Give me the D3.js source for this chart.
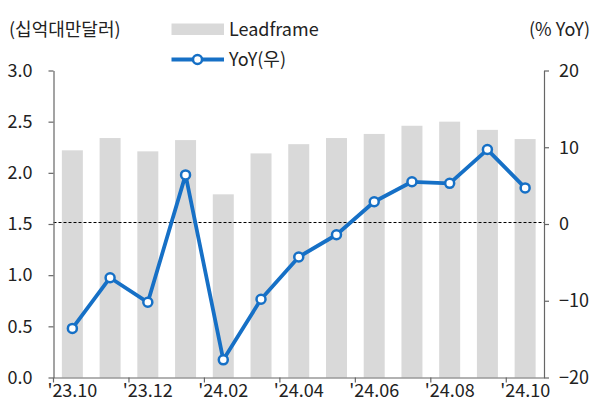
<!DOCTYPE html>
<html>
<head>
<meta charset="utf-8">
<script src="https://cdn.jsdelivr.net/npm/d3@7"></script>
<style>
  body { margin: 0; background: #fff; }
  text { font-family: "Noto Sans CJK KR", "Noto Sans", sans-serif; fill: #222; }
</style>
</head>
<body>
<div class="chart"></div>
<script>
// data
var months = ["'23.10", "'23.11", "'23.12", "'24.01", "'24.02", "'24.03", "'24.04",
              "'24.05", "'24.06", "'24.07", "'24.08", "'24.09", "'24.10"];
var leadframe = [2.22, 2.34, 2.21, 2.32, 1.79, 2.19, 2.28, 2.34, 2.38, 2.46, 2.50, 2.42, 2.33];
var yoy = [-13.6, -7.0, -10.2, 6.4, -17.7, -9.8, -4.3, -1.4, 2.9, 5.5, 5.3, 9.7, 4.7];
var leftTicks = [0, 0.5, 1.0, 1.5, 2.0, 2.5, 3.0];
var rightTicks = [-20, -10, 0, 10, 20];

var width = 592, height = 405;
var margin = { top: 70.5, right: 48, bottom: 27.5, left: 53.5 };
var BAR_COLOR = '#d9d9d9';
var LINE_COLOR = '#1670c6';
var AXIS_COLOR = '#666';
var FONT_SIZE = '18px';

var svg = d3.select('.chart').append('svg')
  .attr('width', width)
  .attr('height', height);

var band = d3.scaleBand()
  .domain(months)
  .range([margin.left, width - margin.right]);

var yL = d3.scaleLinear().domain([0, 3]).range([height - margin.bottom, margin.top]);
var yR = d3.scaleLinear().domain([-20, 20]).range([height - margin.bottom, margin.top]);

function cx(i) { return band(months[i]) + band.bandwidth() / 2; }

// bars
svg.append('g').selectAll('rect')
  .data(leadframe)
  .enter().append('rect')
  .attr('x', function (d, i) { return cx(i) - 10.5; })
  .attr('width', 21)
  .attr('y', function (d) { return yL(d); })
  .attr('height', function (d) { return yL(0) - yL(d); })
  .attr('fill', BAR_COLOR);

// zero line of right axis
svg.append('line')
  .attr('x1', margin.left).attr('x2', width - margin.right)
  .attr('y1', Math.round(yR(0)) - 1.5).attr('y2', Math.round(yR(0)) - 1.5)
  .attr('stroke', '#000')
  .attr('stroke-width', 1)
  .attr('stroke-dasharray', '3,2');

// axes
var leftAxis = svg.append('g')
  .attr('transform', 'translate(' + margin.left + ',0)')
  .call(d3.axisLeft(yL).tickValues(leftTicks).tickFormat(d3.format('.1f')).tickSize(5).tickSizeOuter(0));

var rightAxis = svg.append('g')
  .attr('transform', 'translate(' + (width - margin.right) + ',0)')
  .call(d3.axisRight(yR).tickValues(rightTicks).tickSize(5).tickSizeOuter(0));

var xTicks = months.filter(function (d, i) { return i % 2 === 0; });
var bottomAxis = svg.append('g')
  .attr('transform', 'translate(0,' + (height - margin.bottom) + ')')
  .call(d3.axisBottom(band).tickValues(xTicks).tickSize(5).tickSizeOuter(0));
bottomAxis.selectAll('.tick line')
  .attr('transform', 'translate(' + (-band.bandwidth() / 2) + ',0)');
bottomAxis.selectAll('.tick text').attr('dy', '0.9em').attr('y', 3);

[leftAxis, rightAxis, bottomAxis].forEach(function (g) {
  g.select('.domain').attr('stroke', AXIS_COLOR).attr('stroke-width', 1.2);
  g.selectAll('.tick line').attr('stroke', AXIS_COLOR).attr('stroke-width', 1.2);
  g.selectAll('.tick text')
    .style('font-family', '"Noto Sans CJK KR", sans-serif')
    .style('font-size', FONT_SIZE)
    .attr('fill', '#222');
});
leftAxis.selectAll('.tick text').attr('x', -21);
rightAxis.selectAll('.tick text').attr('x', 15);

// line
var line = d3.line()
  .x(function (d, i) { return cx(i); })
  .y(function (d) { return yR(d); });

svg.append('path')
  .datum(yoy)
  .attr('d', line)
  .attr('fill', 'none')
  .attr('stroke', LINE_COLOR)
  .attr('stroke-width', 3.8)
  .attr('stroke-linejoin', 'round');

svg.append('g').selectAll('circle')
  .data(yoy)
  .enter().append('circle')
  .attr('cx', function (d, i) { return cx(i); })
  .attr('cy', function (d) { return yR(d); })
  .attr('r', 4.5)
  .attr('fill', '#fff')
  .attr('stroke', LINE_COLOR)
  .attr('stroke-width', 2.5);

// unit labels
svg.append('text')
  .attr('x', 9).attr('y', 36)
  .style('font-size', FONT_SIZE)
  .text('(십억대만달러)');

svg.append('text')
  .attr('x', 590).attr('y', 36)
  .attr('text-anchor', 'end')
  .style('font-size', FONT_SIZE)
  .text('(% YoY)');

// legend
var legend = svg.append('g');
legend.append('rect')
  .attr('x', 171.5).attr('y', 23.5)
  .attr('width', 52.5).attr('height', 11.5)
  .attr('fill', BAR_COLOR);
legend.append('text')
  .attr('x', 229).attr('y', 36)
  .style('font-size', FONT_SIZE)
  .text('Leadframe');

legend.append('line')
  .attr('x1', 171.5).attr('x2', 224)
  .attr('y1', 59.5).attr('y2', 59.5)
  .attr('stroke', LINE_COLOR)
  .attr('stroke-width', 3.8);
legend.append('circle')
  .attr('cx', 197.5).attr('cy', 59.5)
  .attr('r', 4.5)
  .attr('fill', '#fff')
  .attr('stroke', LINE_COLOR)
  .attr('stroke-width', 2.5);
legend.append('text')
  .attr('x', 229).attr('y', 66)
  .style('font-size', FONT_SIZE)
  .text('YoY(우)');
</script>
</body>
</html>
